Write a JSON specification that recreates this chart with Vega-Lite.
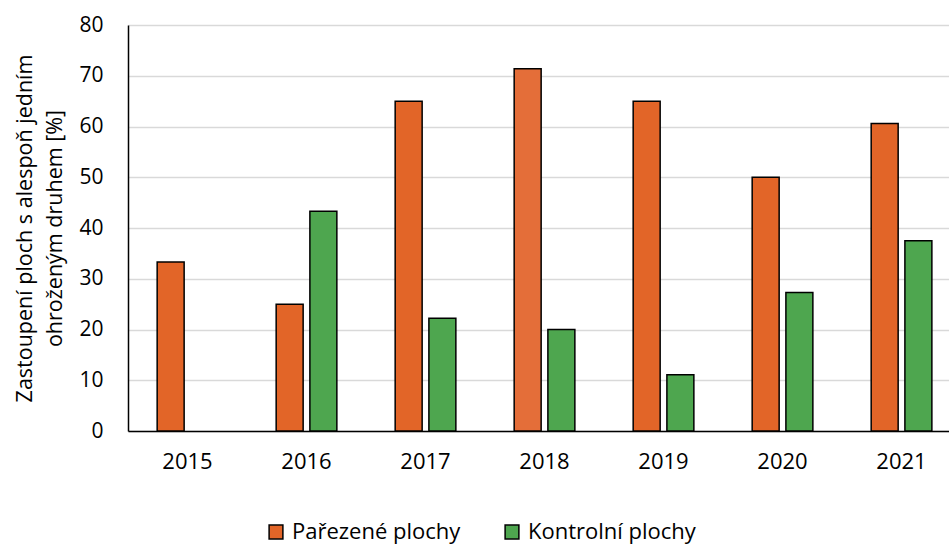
{
  "$schema": "https://vega.github.io/schema/vega-lite/v6.json",
  "autosize": {"type": "none"},
  "padding": {"left": 128, "top": 25, "right": 0, "bottom": 116},
  "width": 821,
  "height": 406,
  "background": "white",
  "data": {
    "values": [
      {"year": "2015", "series": "Pařezené plochy", "value": 33.3},
      {"year": "2016", "series": "Pařezené plochy", "value": 25.0},
      {"year": "2016", "series": "Kontrolní plochy", "value": 43.3},
      {"year": "2017", "series": "Pařezené plochy", "value": 65.0},
      {"year": "2017", "series": "Kontrolní plochy", "value": 22.2},
      {"year": "2018", "series": "Pařezené plochy", "value": 71.4},
      {"year": "2018", "series": "Kontrolní plochy", "value": 20.0},
      {"year": "2019", "series": "Pařezené plochy", "value": 65.0},
      {"year": "2019", "series": "Kontrolní plochy", "value": 11.1},
      {"year": "2020", "series": "Pařezené plochy", "value": 50.0},
      {"year": "2020", "series": "Kontrolní plochy", "value": 27.3},
      {"year": "2021", "series": "Pařezené plochy", "value": 60.6},
      {"year": "2021", "series": "Kontrolní plochy", "value": 37.5}
    ]
  },
  "mark": {"type": "bar", "stroke": "black", "strokeWidth": 1.5},
  "encoding": {
    "x": {
      "field": "year",
      "type": "nominal",
      "scale": {"paddingInner": 0.49, "paddingOuter": 0.1945, "align": 0.63},
      "axis": {
        "title": null,
        "labelAngle": 0,
        "labelFont": "Open Sans",
        "labelFontSize": 22,
        "labelColor": "black",
        "labelPadding": 20,
        "ticks": false,
        "domainColor": "black",
        "domainWidth": 1.5
      }
    },
    "xOffset": {
      "field": "series",
      "type": "nominal",
      "sort": ["Pařezené plochy", "Kontrolní plochy"],
      "scale": {"domain": ["Pařezené plochy", "Kontrolní plochy"], "paddingInner": 0.2, "paddingOuter": 0}
    },
    "y": {
      "field": "value",
      "type": "quantitative",
      "scale": {"domain": [0, 80]},
      "axis": {
        "title": ["Zastoupení ploch s alespoň jedním", "ohroženým druhem [%]"],
        "titleFont": "Open Sans",
        "titleFontSize": 21.5,
        "titleFontWeight": "normal",
        "titleColor": "black",
        "titlePadding": 12,
        "titleLineHeight": 30,
        "values": [0, 10, 20, 30, 40, 50, 60, 70, 80],
        "labelFont": "Open Sans",
        "labelFontSize": 21,
        "labelColor": "black",
        "labelPadding": 25,
        "ticks": false,
        "domainColor": "black",
        "domainWidth": 1.5,
        "gridColor": "#d9d9d9",
        "gridWidth": 1.5
      }
    },
    "color": {
      "condition": {"test": "datum.year == '2018' && datum.series == 'Pařezené plochy'", "value": "#E46E39"},
      "field": "series",
      "type": "nominal",
      "scale": {"domain": ["Pařezené plochy", "Kontrolní plochy"], "range": ["#E26528", "#4EA64F"]},
      "legend": {
        "title": null,
        "orient": "none",
        "direction": "horizontal",
        "legendX": 137,
        "legendY": 496,
        "symbolType": "square",
        "symbolSize": 190,
        "symbolStrokeColor": "black",
        "symbolStrokeWidth": 1.5,
        "symbolOpacity": 1,
        "labelFont": "Open Sans",
        "labelFontSize": 22,
        "labelColor": "black",
        "labelOffset": 5,
        "labelLimit": 400,
        "columnPadding": 40
      }
    }
  },
  "config": {"view": {"stroke": null}}
}
